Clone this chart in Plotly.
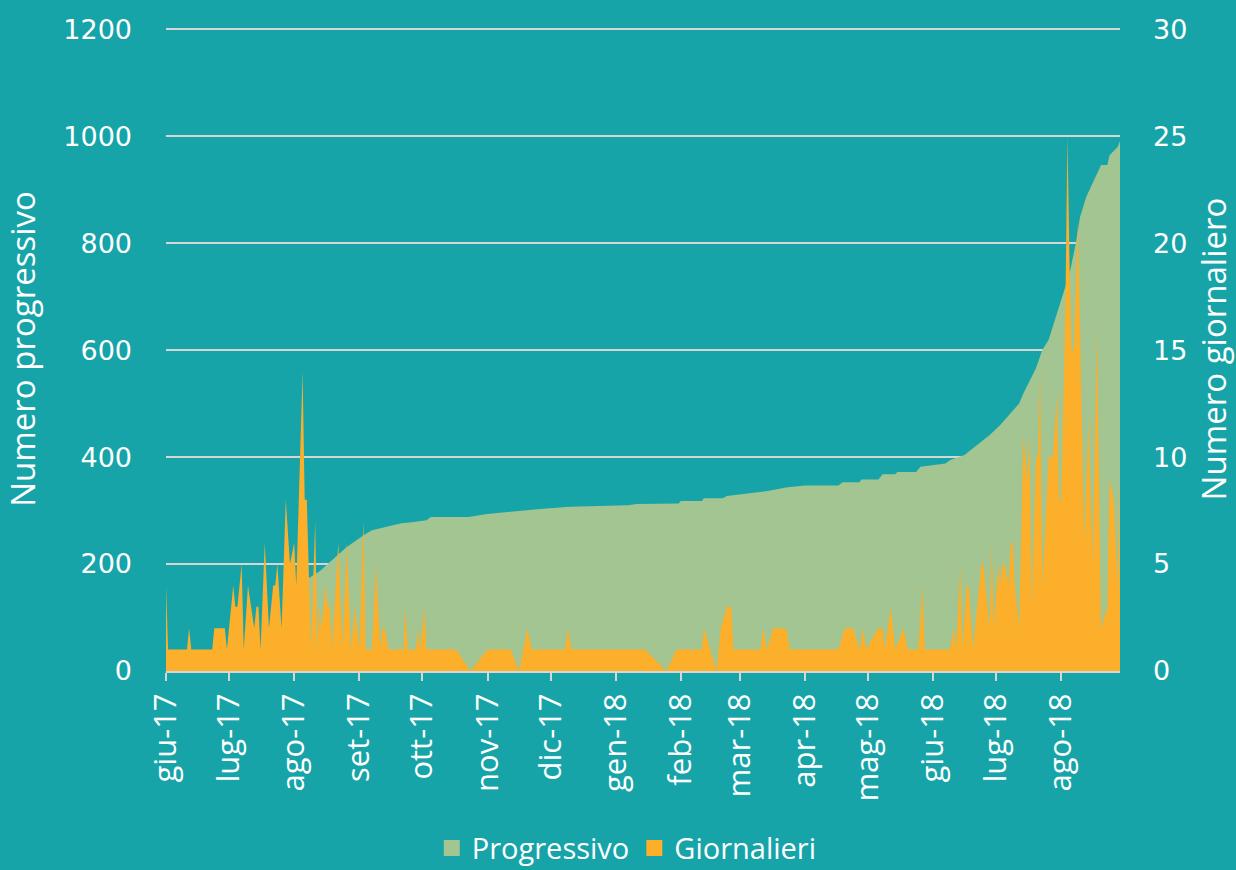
import plotly.graph_objects as go

# ---- data ----
giorn_dates = [
    "2017-06-01", "2017-06-02", "2017-06-11", "2017-06-12", "2017-06-13", "2017-06-23", "2017-06-24",
    "2017-06-29", "2017-06-30", "2017-07-03", "2017-07-04", "2017-07-05", "2017-07-07", "2017-07-08",
    "2017-07-10", "2017-07-13", "2017-07-14", "2017-07-15", "2017-07-16", "2017-07-18", "2017-07-20",
    "2017-07-22", "2017-07-23", "2017-07-24", "2017-07-26", "2017-07-28", "2017-07-30", "2017-08-01",
    "2017-08-02", "2017-08-05", "2017-08-06", "2017-08-07", "2017-08-09", "2017-08-11", "2017-08-12",
    "2017-08-13", "2017-08-14", "2017-08-16", "2017-08-17", "2017-08-18", "2017-08-19", "2017-08-22",
    "2017-08-24", "2017-08-26", "2017-08-28", "2017-08-30", "2017-09-01", "2017-09-03", "2017-09-04",
    "2017-09-07", "2017-09-09", "2017-09-11", "2017-09-12", "2017-09-13", "2017-09-15", "2017-09-22",
    "2017-09-23", "2017-09-24", "2017-09-28", "2017-09-29", "2017-09-30", "2017-10-02", "2017-10-03",
    "2017-10-17", "2017-10-24", "2017-11-01", "2017-11-12", "2017-11-16", "2017-11-20", "2017-11-22",
    "2017-12-08", "2017-12-09", "2017-12-11", "2018-01-15", "2018-01-25", "2018-01-30", "2018-02-11",
    "2018-02-12", "2018-02-18", "2018-02-20", "2018-02-23", "2018-02-25", "2018-02-26", "2018-03-11",
    "2018-03-12", "2018-03-14", "2018-03-17", "2018-03-23", "2018-03-25", "2018-04-17", "2018-04-20",
    "2018-04-24", "2018-04-27", "2018-04-29", "2018-04-30", "2018-05-06", "2018-05-08", "2018-05-09",
    "2018-05-12", "2018-05-14", "2018-05-18", "2018-05-20", "2018-05-25", "2018-05-27", "2018-05-28",
    "2018-06-09", "2018-06-11", "2018-06-12", "2018-06-14", "2018-06-15", "2018-06-17", "2018-06-18",
    "2018-06-20", "2018-06-24", "2018-06-25", "2018-06-26", "2018-06-28", "2018-06-29", "2018-06-30",
    "2018-07-02", "2018-07-03", "2018-07-04", "2018-07-05", "2018-07-07", "2018-07-08", "2018-07-09",
    "2018-07-10", "2018-07-12", "2018-07-14", "2018-07-16", "2018-07-17", "2018-07-18", "2018-07-20",
    "2018-07-21", "2018-07-22", "2018-07-23", "2018-07-26", "2018-07-28", "2018-07-30", "2018-07-31",
    "2018-08-01", "2018-08-03", "2018-08-04", "2018-08-05", "2018-08-06", "2018-08-07", "2018-08-09",
    "2018-08-12", "2018-08-14", "2018-08-16", "2018-08-18", "2018-08-20", "2018-08-23", "2018-08-24",
    "2018-08-26", "2018-08-28", "2018-08-29",
]
giorn_values = [
    4, 1, 1, 2, 1, 1, 2,
    2, 1, 4, 3, 3, 5, 1,
    4, 2, 3, 3, 1, 6, 2,
    4, 4, 5, 2, 8, 5, 6,
    4, 14, 8, 8, 1, 7, 1,
    3, 2, 4, 3, 3, 1, 6,
    1, 6, 1, 3, 1, 7, 1,
    1, 5, 1, 2, 2, 1, 1,
    3, 1, 1, 2, 1, 3, 1,
    1, 0, 1, 1, 0, 2, 1,
    1, 2, 1, 1, 0, 1, 1,
    2, 0, 2, 3, 3, 1, 1,
    2, 1, 2, 2, 1, 1, 2,
    2, 1, 2, 1, 2, 2, 1,
    3, 1, 2, 1, 1, 4, 1,
    1, 2, 1, 5, 1, 4, 4,
    1, 5, 5, 4, 2, 6, 2,
    5, 4, 5, 5, 4, 6, 6,
    4, 2, 11, 9, 11, 3, 10,
    10, 14, 4, 10, 10, 13, 8,
    8, 17, 25, 19, 15, 15, 21,
    6, 12, 5, 16, 2, 3, 9,
    8, 4, 9,
]

prog_dates = [
    "2017-06-01", "2017-06-15", "2017-06-30", "2017-07-10", "2017-07-20", "2017-07-26", "2017-08-02",
    "2017-08-08", "2017-08-13", "2017-08-19", "2017-08-26", "2017-09-01", "2017-09-03", "2017-09-07",
    "2017-09-13", "2017-09-21", "2017-09-26", "2017-10-03", "2017-10-05", "2017-10-23", "2017-10-31",
    "2017-11-12", "2017-11-26", "2017-12-10", "2018-01-07", "2018-01-11", "2018-01-31", "2018-02-01",
    "2018-02-11", "2018-02-12", "2018-02-21", "2018-02-23", "2018-03-15", "2018-03-23", "2018-04-01",
    "2018-04-17", "2018-04-19", "2018-04-27", "2018-04-28", "2018-05-06", "2018-05-08", "2018-05-14",
    "2018-05-15", "2018-05-24", "2018-05-26", "2018-06-07", "2018-06-09", "2018-06-16", "2018-06-19",
    "2018-06-23", "2018-06-28", "2018-07-03", "2018-07-09", "2018-07-12", "2018-07-14", "2018-07-17",
    "2018-07-20", "2018-07-23", "2018-07-26", "2018-07-29", "2018-08-01", "2018-08-05", "2018-08-08",
    "2018-08-10", "2018-08-13", "2018-08-17", "2018-08-20", "2018-08-23", "2018-08-24", "2018-08-28",
    "2018-08-29",
]
prog_values = [
    4, 16, 30, 38, 40, 72, 125,
    174, 186, 207, 232, 248, 254, 263,
    268, 276, 278, 282, 288, 288, 293,
    298, 303, 307, 310, 312, 313, 318,
    318, 323, 323, 327, 337, 343, 347,
    347, 353, 353, 358, 358, 368, 368,
    372, 372, 382, 388, 394, 404, 413,
    426, 441, 460, 488, 500, 519, 544,
    566, 600, 619, 656, 693, 743, 800,
    849, 887, 921, 946, 946, 964, 980,
    991,
]

month_ticks = [
    "2017-06-01", "2017-07-01", "2017-08-01", "2017-09-01", "2017-10-01", "2017-11-01", "2017-12-01",
    "2018-01-01", "2018-02-01", "2018-03-01", "2018-04-01", "2018-05-01", "2018-06-01", "2018-07-01",
    "2018-08-01",
]
month_labels = [
    "giu-17", "lug-17", "ago-17", "set-17", "ott-17", "nov-17", "dic-17",
    "gen-18", "feb-18", "mar-18", "apr-18", "mag-18", "giu-18", "lug-18", "ago-18",
]
left_ticks = [0, 200, 400, 600, 800, 1000, 1200]
right_ticks = [0, 5, 10, 15, 20, 25, 30]

BG = "#16A4A9"
GREEN = "#A2C592"
ORANGE = "#FCAF2B"
GRID = "#D6D6D6"
FONT = "Open Sans"
NUMFONT = "DejaVu Sans"

fig = go.Figure()
fig.add_trace(go.Scatter(
    x=prog_dates, y=prog_values, name="Progressivo", mode="lines", showlegend=False,
    line=dict(width=0, color=GREEN), fill="tozeroy", fillcolor=GREEN, yaxis="y",
))
fig.add_trace(go.Scatter(
    x=giorn_dates, y=giorn_values, name="Giornalieri", mode="lines", showlegend=False,
    line=dict(width=0, color=ORANGE), fill="tozeroy", fillcolor=ORANGE, yaxis="y2",
))
# legend-only entries with square swatches
for nm, col in (("Progressivo", GREEN), ("Giornalieri", ORANGE)):
    fig.add_trace(go.Scatter(
        x=[None], y=[None], name=nm, mode="markers",
        marker=dict(symbol="square", size=17, color=col), showlegend=True,
    ))

fig.update_layout(
    width=1236, height=870,
    paper_bgcolor=BG, plot_bgcolor=BG,
    margin=dict(l=166, r=116, t=27, b=199, autoexpand=False),
    font=dict(family=FONT, color="white", size=24),
    showlegend=True,
    legend=dict(orientation="h", x=0.483, xanchor="center", y=-0.275, yanchor="middle",
                font=dict(size=29, color="white", family=FONT), itemwidth=30,
                traceorder="normal", bgcolor="rgba(0,0,0,0)", tracegroupgap=0),
    xaxis=dict(
        type="date", range=["2017-06-01", "2018-08-29"], automargin=False,
        tickvals=month_ticks, ticktext=month_labels, tickangle=-90,
        tickfont=dict(size=31, color="white", family=FONT),
        showgrid=False, showline=True, linecolor=GRID, linewidth=2,
        ticks="outside", ticklen=8, tickcolor=GRID, tickwidth=2,
        zeroline=False,
    ),
    yaxis=dict(
        range=[0, 1204], tickvals=left_ticks, automargin=False,
        showgrid=True, gridcolor=GRID, gridwidth=2, zeroline=False,
        tickfont=dict(size=27, color="white", family=NUMFONT), ticklabelstandoff=33,
        title=dict(text="Numero progressivo", font=dict(size=33, color="white", family=FONT), standoff=19),
    ),
    yaxis2=dict(
        range=[0, 30.1], tickvals=right_ticks, overlaying="y", side="right", automargin=False,
        showgrid=False, zeroline=False,
        tickfont=dict(size=27, color="white", family=NUMFONT), ticklabelstandoff=32,
        title=dict(text="Numero giornaliero", font=dict(size=33, color="white", family=FONT), standoff=24),
    ),
)

fig.write_html(
    "out.html",
    config={"displayModeBar": False},
    post_script="document.body.style.margin='0';document.body.style.background='#16A4A9';",
)
